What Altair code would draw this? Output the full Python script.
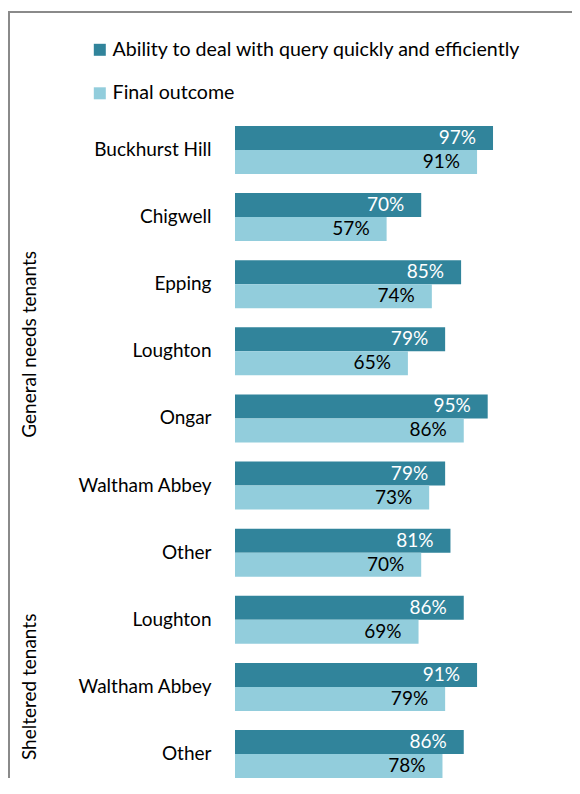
import altair as alt
import pandas as pd

groups = ["General needs tenants"] * 7 + ["Sheltered tenants"] * 3
areas = ["Buckhurst Hill", "Chigwell", "Epping", "Loughton", "Ongar",
         "Waltham Abbey", "Other", "Loughton", "Waltham Abbey", "Other"]
quick = [97, 70, 85, 79, 95, 79, 81, 86, 91, 86]
final = [91, 57, 74, 65, 86, 73, 70, 69, 79, 78]
series = ["Ability to deal with query quickly and efficiently", "Final outcome"]
colors = ["#31849B", "#92CDDC"]
label_colors = ["white", "black"]

keys = [f"{i}|{a}" for i, a in enumerate(areas)]
rows = []
for k, g, q, f in zip(keys, groups, quick, final):
    rows.append({"key": k, "group": g, "series": series[0], "value": q, "label": f"{q}%"})
    rows.append({"key": k, "group": g, "series": series[1], "value": f, "label": f"{f}%"})
df = pd.DataFrame(rows)

FONT = "Lato"
FS = 19

ysc = alt.Scale(domain=keys, paddingInner=0.2846, paddingOuter=0)
yenc = alt.Y("key:N", scale=ysc, axis=alt.Axis(
    title=None, ticks=False, domain=False, labelPadding=24,
    labelFont=FONT, labelFontSize=FS, labelColor="black",
    labelExpr="split(datum.label, '|')[1]"))
xenc = alt.X("value:Q", scale=alt.Scale(domain=[0, 100]), axis=None)
yoff = alt.YOffset("series:N", scale=alt.Scale(domain=series, paddingInner=0, paddingOuter=0))

base = alt.Chart(df)
bars = base.mark_bar().encode(
    y=yenc, x=xenc, yOffset=yoff,
    color=alt.Color("series:N", scale=alt.Scale(domain=series, range=colors),
                    legend=alt.Legend(title=None, orient="none", legendX=-145, legendY=-86,
                                      direction="vertical", symbolType="square",
                                      symbolSize=144, symbolStrokeWidth=0,
                                      labelFont=FONT, labelFontSize=19.6, labelColor="black",
                                      rowPadding=22.5, labelOffset=3, labelLimit=500)),
)
texts = base.mark_text(align="right", baseline="middle", dx=-17, font=FONT, fontSize=FS).encode(
    y=alt.Y("key:N", scale=ysc), x=xenc, yOffset=yoff, text="label:N",
    color=alt.Color("series:N", scale=alt.Scale(domain=series, range=label_colors), legend=None),
)

grp_names = ["General needs tenants", "Sheltered tenants"]
grp_keys = [keys[3], keys[8]]
grp_layers = []
for name, key, shift in zip(grp_names, grp_keys, [7, 0]):
    gdf = pd.DataFrame({"key": [key], "group": [name]})
    grp_layers.append(alt.Chart(gdf).mark_text(
        angle=270, baseline="middle", align="center", dx=shift,
        font=FONT, fontSize=FS, color="black").encode(
        y=alt.Y("key:N", scale=ysc), x=alt.value(-205), text="group:N"))

frame = alt.Chart(pd.DataFrame({"a": [0]})).mark_rect(
    fill="transparent", stroke="#8a8a8a", strokeWidth=2).encode(
    x=alt.value(-226), x2=alt.value(400), y=alt.value(-114), y2=alt.value(720))

chart = alt.layer(frame, bars, texts, *grp_layers).resolve_scale(color="independent").properties(
    width=266, height=652,
    autosize=alt.AutoSizeParams(type="none"),
    padding={"left": 227, "top": 118, "right": 71, "bottom": 0},
).configure_view(stroke=None)

chart.save("out.html", embed_options={"renderer": "svg", "actions": False})
